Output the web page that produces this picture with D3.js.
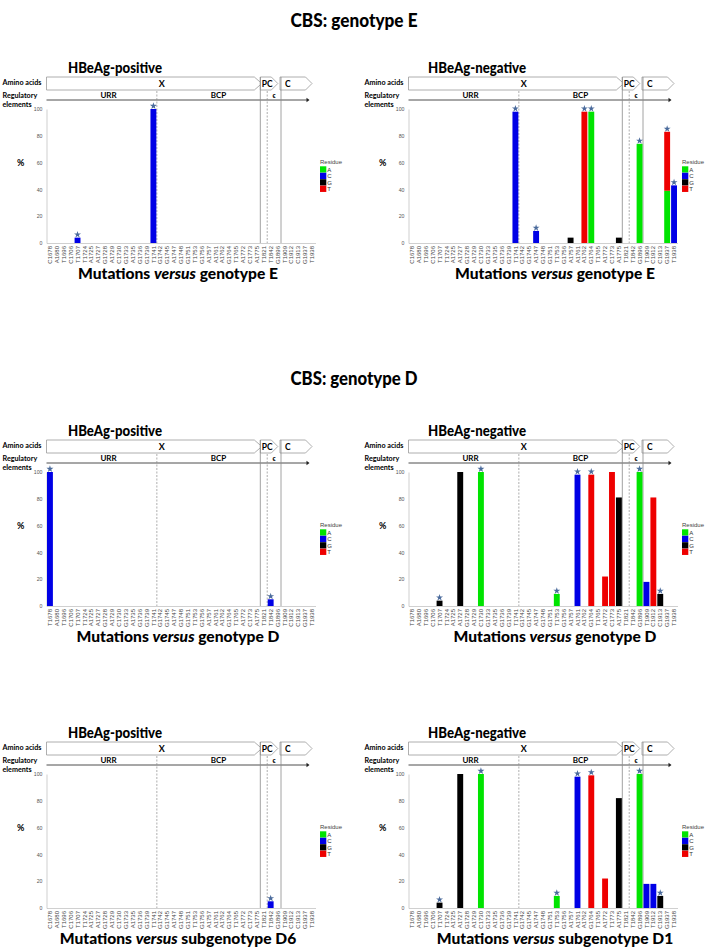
<!DOCTYPE html>
<html><head><meta charset="utf-8">
<script src="https://cdn.jsdelivr.net/npm/d3@7"></script>
<style>body{margin:0;background:#fff}svg{display:block}</style>
</head><body>
<svg id="c" width="708" height="949"></svg>
<script>
// ---------- data ----------
const residues = ["A", "C", "G", "T"];
const residueColors = ["#00e400", "#0000e6", "#000000", "#ee0000"];
const yTicks = [0, 20, 40, 60, 80, 100];

const catsE = ["C1678","A1680","T1696","C1706","T1707","T1724","A1725","A1727","G1728","A1729","C1730","G1733","A1735","G1736","G1739","T1741","G1742","G1745","A1747","G1748","G1751","T1753","G1756","A1757","A1761","A1762","G1764","T1765","A1772","C1773","A1775","T1821","T1842","G1896","T1909","C1912","C1913","G1937","T1938"];
const catsD = ["T1678","A1680","T1696","C1706","T1707","T1724","A1725","A1727","G1728","A1729","C1730","G1733","A1735","G1736","G1739","T1741","G1742","G1745","A1747","G1748","G1751","T1753","G1756","A1757","A1761","A1762","G1764","T1765","A1772","C1773","A1775","T1821","T1842","G1896","T1909","C1912","C1913","G1937","T1938"];
const catsD6 = ["C1678","A1680","T1696","C1706","T1707","T1724","A1725","A1727","G1728","A1729","C1730","G1733","A1735","G1736","G1739","T1741","G1742","G1745","A1747","G1748","G1751","T1753","G1756","A1757","A1761","A1762","G1764","T1765","A1772","C1773","A1775","T1821","T1842","G1896","T1909","C1912","C1913","G1937","T1938"];
const catsD1 = ["T1678","A1680","T1696","C1706","T1707","T1724","A1725","A1727","G1728","A1729","C1730","G1733","A1735","G1736","G1739","T1741","G1742","G1745","A1747","G1748","G1751","T1753","G1756","A1757","A1761","A1762","G1764","T1765","A1772","T1773","A1775","T1821","T1842","G1896","T1909","T1912","C1913","G1937","T1938"];

// mutations: [position, residue, percent, significant(star)]
const mutEPos = [["T1707","C",4,true],["T1741","C",100,true]];
const mutENeg = [["T1741","C",98,true],["A1747","C",9,true],["A1757","G",4,false],["A1762","T",98,true],["G1764","A",98,true],["A1775","G",4,false],["G1896","A",74,true],["G1937","A",39,true],["G1937","T",44,true],["T1938","C",43,true]];
const mutDPos = [["T1678","C",100,true],["T1842","C",5,true]];
const mutDNeg = [["T1707","G",4,true],["A1727","G",100,false],["C1730","A",100,true],["T1753","A",9,true],["A1761","C",98,true],["G1764","T",98,true],["A1772","T",22,false],["C1773","T",100,false],["A1775","G",81,false],["G1896","A",100,true],["T1909","C",18,false],["C1912","T",81,false],["C1913","G",9,true]];
const mutD6Pos = [["T1842","C",5,true]];
const mutD1Neg = [["T1707","G",4,true],["A1727","G",100,false],["C1730","A",100,true],["T1753","A",9,true],["A1761","C",98,true],["G1764","T",99,true],["A1772","T",22,false],["A1775","G",82,false],["G1896","A",100,true],["T1909","C",18,false],["T1912","C",18,false],["C1913","G",9,true]];

const mainTitles = ["CBS: genotype E", "CBS: genotype D"];
const panelTitles = ["HBeAg-positive", "HBeAg-negative"];
const refNames = ["genotype E", "genotype D", "subgenotype D6", "subgenotype D1"];

// ---------- layout ----------
const svg = d3.select("#c");
const FT = "Lato, 'Open Sans', sans-serif";
const FS = "'Liberation Sans', Arial, sans-serif";
const rowY = [0, 363, 665];
const colX = [0, 362];
const capX = [178, 193];
const titleW = [94, 98];
const color = d3.scaleOrdinal().domain(residues).range(residueColors);

function fit(sel, target) {
  const fs = parseFloat(sel.attr("font-size"));
  const w = sel.node().getComputedTextLength();
  const nf = fs * target / w;
  sel.attr("font-size", nf);
  return nf;
}

// main titles
[[27, mainTitles[0]], [385, mainTitles[1]]].forEach(([ty, txt]) => {
  svg.append("text").attr("x", 354).attr("y", ty).attr("text-anchor", "middle")
    .attr("font-family", FT).attr("font-weight", 900).attr("font-size", 19.5)
    .attr("textLength", 127).attr("lengthAdjust", "spacingAndGlyphs").text(txt);
});

const panels = [
  {row:0, col:0, cats:catsE, muts:mutEPos, ref:refNames[0]},
  {row:0, col:1, cats:catsE, muts:mutENeg, ref:refNames[0]},
  {row:1, col:0, cats:catsD, muts:mutDPos, ref:refNames[1]},
  {row:1, col:1, cats:catsD, muts:mutDNeg, ref:refNames[1]},
  {row:2, col:0, cats:catsD6, muts:mutD6Pos, ref:refNames[2]},
  {row:2, col:1, cats:catsD1, muts:mutD1Neg, ref:refNames[3]}
];

let capFS = null, hdrFS = null;

panels.forEach(p => {
  const g = svg.append("g").attr("transform", `translate(${colX[p.col]},${rowY[p.row]})`);
  const x = d3.scaleBand().domain(p.cats).range([46.5, 315.5]).padding(0);
  const y = d3.scaleLinear().domain([0, 100]).range([243, 109]);
  const b1 = x(p.cats[16]), b2 = x(p.cats[31]), b3 = x(p.cats[32]), b4 = x(p.cats[34]);
  const xR = x.range()[1];

  // panel title
  g.append("text").attr("x", 115).attr("y", 73).attr("text-anchor", "middle")
    .attr("font-family", FT).attr("font-weight", 900).attr("font-size", 14.5)
    .attr("textLength", titleW[p.col]).attr("lengthAdjust", "spacingAndGlyphs").text(panelTitles[p.col]);

  // header labels
  const al = g.append("text").attr("x", 2.5).attr("y", 84.5).attr("font-family", FT)
    .attr("font-weight", "bold").attr("font-size", 7).text("Amino acids");
  if (hdrFS === null) hdrFS = fit(al, 39); else al.attr("font-size", hdrFS);
  g.append("text").attr("x", 2.5).attr("y", 97.5).attr("font-family", FT)
    .attr("font-weight", "bold").attr("font-size", hdrFS).text("Regulatory");
  g.append("text").attr("x", 2.5).attr("y", 106.8).attr("font-family", FT)
    .attr("font-weight", "bold").attr("font-size", hdrFS).text("elements");

  // amino acid boxes
  const box = (x0, xs, xt) => `M${x0},77 H${xs} L${xt},83.5 L${xs},90 H${x0} Z`;
  const boxStyle = s => s.attr("fill", "#fff").attr("stroke", "#9a9a9a").attr("stroke-width", 0.8).attr("stroke-linejoin", "round");
  g.append("path").attr("d", box(46.5, b2 - 6, b2 + 1.5)).call(boxStyle);
  g.append("path").attr("d", box(b2, b2 + 11, b2 + 17.5)).call(boxStyle);
  g.append("path").attr("d", box(b4 - 1, xR - 10, xR - 3.5)).call(boxStyle);
  g.append("text").attr("x", b1 + 5).attr("y", 87).attr("text-anchor", "middle").attr("font-family", FT)
    .attr("font-weight", "bold").attr("font-size", 9).text("X");
  g.append("text").attr("x", b2 + 1.5).attr("y", 86.8).attr("font-family", FT)
    .attr("font-weight", "bold").attr("font-size", 8.5).text("PC");
  g.append("text").attr("x", b4 + 4).attr("y", 87).attr("font-family", FT)
    .attr("font-weight", "bold").attr("font-size", 8.5).text("C");

  // regulatory elements
  g.append("text").attr("x", 108.5).attr("y", 98).attr("text-anchor", "middle").attr("font-family", FT)
    .attr("font-weight", "bold").attr("font-size", 8).text("URR");
  g.append("text").attr("x", 218.5).attr("y", 98).attr("text-anchor", "middle").attr("font-family", FT)
    .attr("font-weight", "bold").attr("font-size", 8).text("BCP");
  g.append("text").attr("x", (b3 + b4) / 2).attr("y", 97.5).attr("text-anchor", "middle").attr("font-family", FS)
    .attr("font-weight", "bold").attr("font-size", 6.5).text("ϵ");
  g.append("line").attr("x1", 46.5).attr("x2", xR - 8.5).attr("y1", 100).attr("y2", 100)
    .attr("stroke", "#222").attr("stroke-width", 0.8);
  g.append("path").attr("d", `M${xR - 9},97.8 L${xR - 6},100 L${xR - 9},102.2 Z`).attr("fill", "#222");

  // separators
  [b2, b4].forEach(bx => g.append("line").attr("x1", bx).attr("x2", bx).attr("y1", 77).attr("y2", 243)
    .attr("stroke", "#8a8a8a").attr("stroke-width", 0.8));
  [b1, b3].forEach(bx => g.append("line").attr("x1", bx).attr("x2", bx).attr("y1", 91).attr("y2", 243)
    .attr("stroke", "#8a8a8a").attr("stroke-width", 0.7).attr("stroke-dasharray", "2,1.5"));

  // axes
  const ya = g.append("g").attr("transform", "translate(46.5,0)")
    .call(d3.axisLeft(y).tickValues(yTicks).tickSize(0).tickPadding(4));
  ya.select(".domain").attr("stroke", "#b0b0b0").attr("stroke-width", 0.6);
  ya.selectAll("text").attr("font-family", FS).attr("font-size", 5.2).attr("fill", "#555");
  const xa = g.append("g").attr("transform", "translate(0,243)")
    .call(d3.axisBottom(x).tickSize(0).tickPadding(0));
  xa.select(".domain").attr("stroke", "#b0b0b0").attr("stroke-width", 0.6);
  xa.selectAll("text").attr("font-family", FS).attr("font-size", 6).attr("fill", "#444")
    .attr("text-anchor", "end").attr("transform", "rotate(-90)").attr("x", -3).attr("y", 0).attr("dy", "0.35em");

  // bars (stacked per position in residue order)
  const stack = {};
  const segs = p.muts.map(([pos, res, pct, star]) => {
    const base = stack[pos] || 0;
    stack[pos] = base + pct;
    return {pos, res, pct, star, y0: base, y1: base + pct};
  });
  g.selectAll("rect.bar").data(segs).join("rect").attr("class", "bar")
    .attr("x", d => x(d.pos) + 0.5).attr("width", x.bandwidth() - 1)
    .attr("y", d => y(d.y1)).attr("height", d => y(d.y0) - y(d.y1))
    .attr("fill", d => color(d.res));
  const starPos = Array.from(d3.rollup(segs.filter(s => s.star), v => d3.max(v, s => s.y1), s => s.pos));
  g.selectAll("path.star").data(starPos).join("path").attr("class", "star")
    .attr("d", d3.symbol(d3.symbolStar, 15))
    .attr("transform", d => `translate(${x(d[0]) + x.bandwidth() / 2},${y(d[1]) - 3})`)
    .attr("fill", "#4b6b9c");

  // % label
  g.append("text").attr("x", 20.7).attr("y", 166.3).attr("text-anchor", "middle").attr("font-family", FT)
    .attr("font-weight", "bold").attr("font-size", 9).text("%");

  // legend
  const lg = g.append("g").attr("transform", "translate(320,0)");
  lg.append("text").attr("x", 0).attr("y", 164.3).attr("font-family", FS).attr("font-size", 6).attr("fill", "#444").text("Residue");
  residues.forEach((r, i) => {
    lg.append("rect").attr("x", 0).attr("y", 166.3 + i * 6.45).attr("width", 6.3).attr("height", 6.3).attr("fill", color(r));
    lg.append("text").attr("x", 7.2).attr("y", 171.6 + i * 6.45).attr("font-family", FS).attr("font-size", 6).attr("fill", "#333").text(r);
  });

  // caption
  const cap = g.append("text").attr("x", capX[p.col]).attr("y", 278.5).attr("text-anchor", "middle")
    .attr("font-family", FT).attr("font-weight", 900).attr("font-size", 15);
  cap.append("tspan").text("Mutations ");
  cap.append("tspan").attr("font-style", "italic").text("versus");
  cap.append("tspan").text(" " + p.ref);
  if (capFS === null) capFS = fit(cap, 200); else cap.attr("font-size", capFS);
});
</script>
</body></html>
